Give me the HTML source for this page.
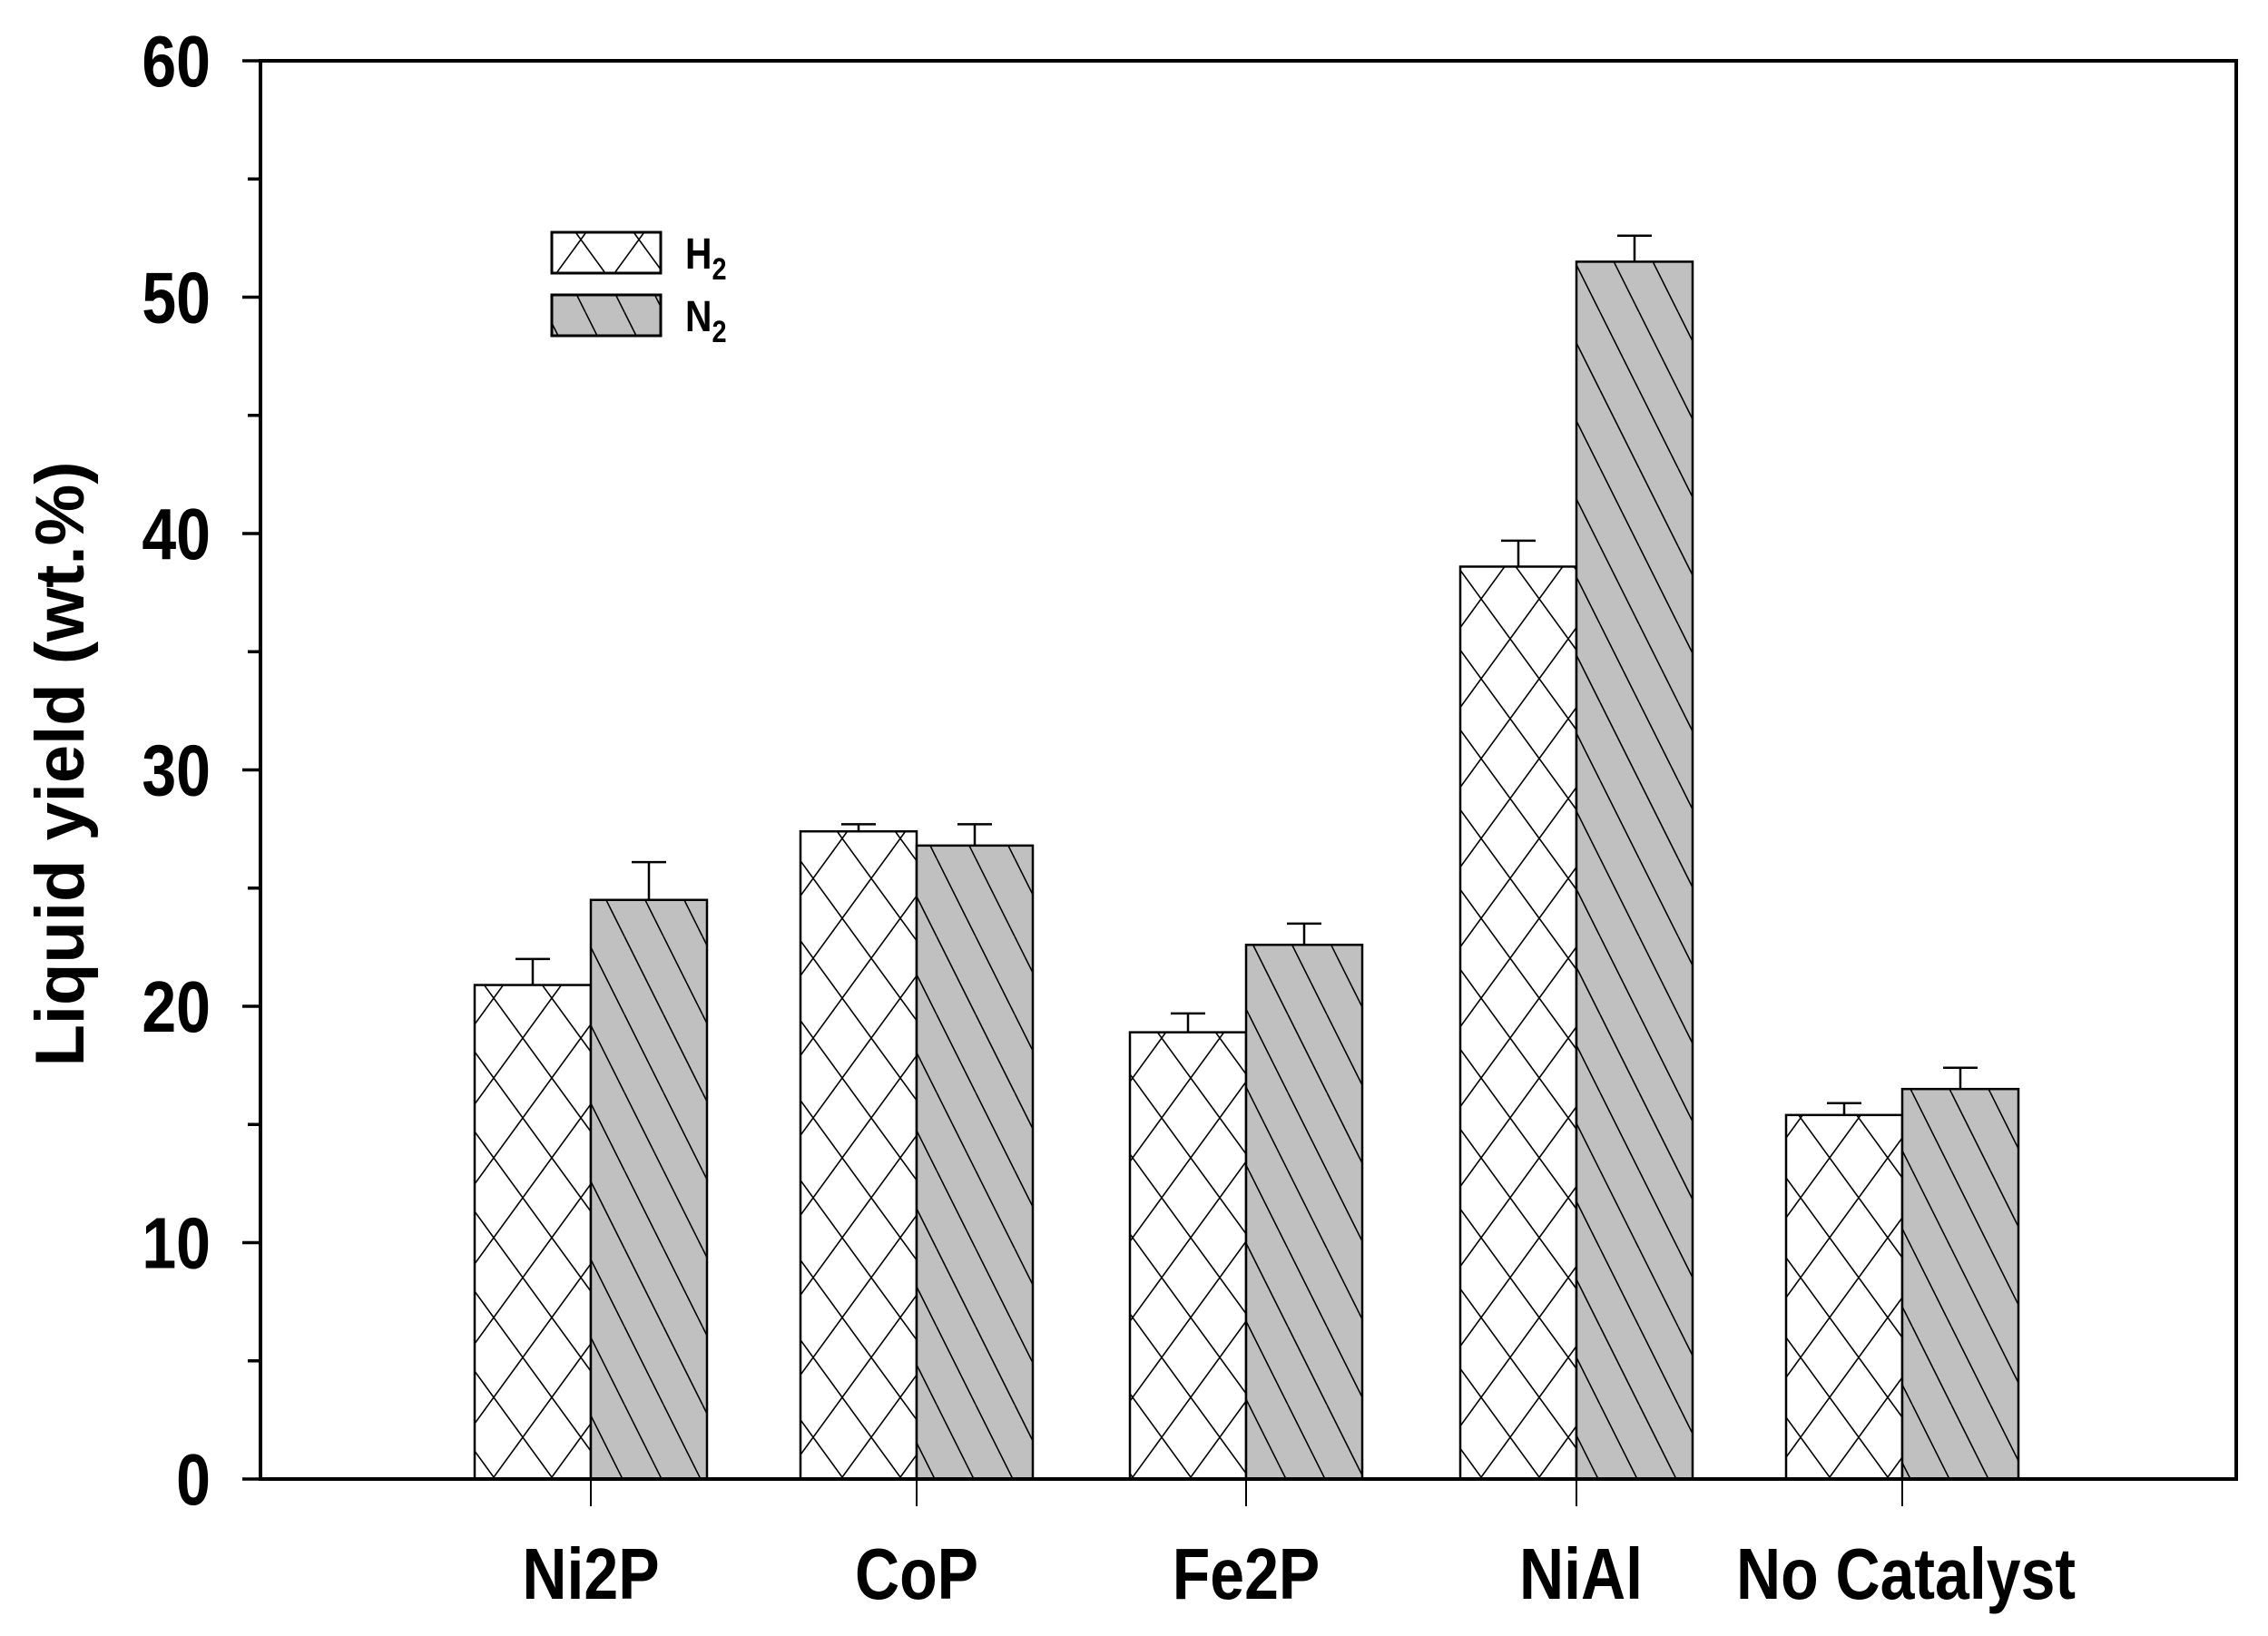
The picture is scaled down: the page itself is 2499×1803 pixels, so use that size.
<!DOCTYPE html>
<html><head><meta charset="utf-8"><style>
html,body{margin:0;padding:0;background:#fff;}
svg{display:block;}
text{font-family:"Liberation Sans",Arial,sans-serif;font-weight:bold;fill:#000;}
</style></head><body>
<svg width="2499" height="1803" viewBox="0 0 2499 1803" xmlns="http://www.w3.org/2000/svg">
<defs>
<pattern id="xh" patternUnits="userSpaceOnUse" width="64" height="88" x="0" y="0">
<rect width="64" height="88" fill="#fff"/>
<path d="M0,0 L64,88 M64,0 L0,88" stroke="#000" stroke-width="1.6"/>
</pattern>
<pattern id="dh" patternUnits="userSpaceOnUse" width="43" height="86">
<rect width="43" height="86" fill="#c0c0c0"/>
<path d="M0,0 L43,86 M-43,0 L0,86 M43,0 L86,86" stroke="#000" stroke-width="1.6"/>
</pattern>
</defs>
<g id="bars" stroke="#000" stroke-width="2.5"></g>
<rect x="287" y="67" width="2177" height="1563" fill="none" stroke="#000" stroke-width="4"/>
<g stroke="#000" stroke-width="3.5" id="ticks"></g>
<g id="ylab"></g>
<text transform="translate(92,842) rotate(-90)" text-anchor="middle" font-size="76">Liquid yield (wt.%)</text>
<g font-size="80" text-anchor="middle">
<text transform="translate(651,1762) scale(0.85,1)">Ni2P</text>
<text transform="translate(1010,1762) scale(0.85,1)">CoP</text>
<text transform="translate(1373,1762) scale(0.85,1)">Fe2P</text>
<text transform="translate(1742,1762) scale(0.85,1)">NiAl</text>
<text transform="translate(2100,1762) scale(0.85,1)">No Catalyst</text>
</g>
<rect x="608" y="256" width="120" height="45" fill="url(#xh)" stroke="#000" stroke-width="3"/>
<rect x="608" y="325" width="120" height="45" fill="url(#dh)" stroke="#000" stroke-width="3"/>
<text transform="translate(755,296) scale(0.85,1)" font-size="48">H<tspan font-size="34" dy="12">2</tspan></text>
<text transform="translate(755,365) scale(0.85,1)" font-size="48">N<tspan font-size="34" dy="12">2</tspan></text>
<script>
var ns="http://www.w3.org/2000/svg";
function y(v){return 1630-v*26.05;}
var centers=[651,1010,1373,1737,2096];
var h=[20.9,27.4,18.9,38.6,15.4], n=[24.5,26.8,22.6,51.5,16.5];
var he=[22.0,27.7,19.7,39.7,15.9], ne=[26.1,27.7,23.5,52.6,17.4];
var g=document.getElementById('bars');
function el(t,a,p){var e=document.createElementNS(ns,t);for(var k in a)e.setAttribute(k,a[k]);(p||g).appendChild(e);return e;}
for(var i=0;i<5;i++){
 var c=centers[i];
 [[c-128,h[i],he[i],'url(#xh)'],[c,n[i],ne[i],'url(#dh)']].forEach(function(b){
  var cx=b[0]+64;
  el('line',{x1:cx,y1:y(b[1]),x2:cx,y2:y(b[2])});
  el('line',{x1:cx-19,y1:y(b[2]),x2:cx+19,y2:y(b[2])});
  el('rect',{x:b[0],y:y(b[1]),width:128,height:1630-y(b[1]),fill:b[3]});
 });
}
var t=document.getElementById('ticks'),yl=document.getElementById('ylab');
for(var v=0;v<=60;v+=5){
 var major=v%10==0;
 el('line',{x1:major?267:273,y1:y(v),x2:287,y2:y(v)},t);
 if(major){var tx=el('text',{transform:'translate(232,'+(y(v)+28)+') scale(0.85,1)','font-size':80,'text-anchor':'end'},yl);tx.textContent=v;}
}
centers.forEach(function(c){el('line',{x1:c,y1:1630,x2:c,y2:1660,'stroke-width':2},t);});
</script>
</svg>
</body></html>
